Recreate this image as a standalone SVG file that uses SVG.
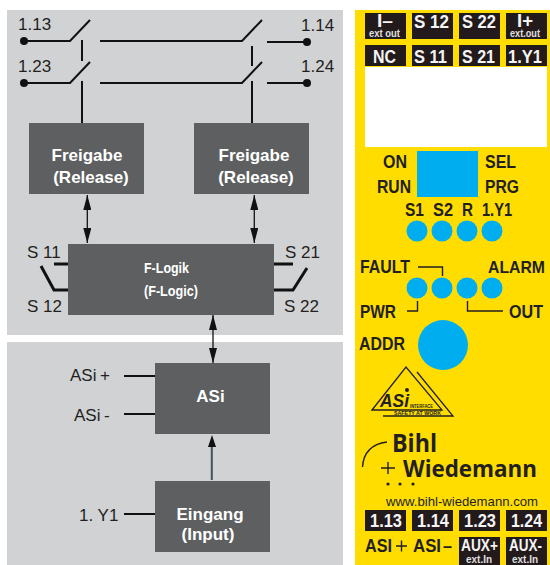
<svg xmlns="http://www.w3.org/2000/svg" width="550" height="565" viewBox="0 0 550 565">
<style>
text{font-family:"Liberation Sans",Arial,sans-serif}
.lab{font-size:17px;fill:#231f20}
.box{fill:#5d5f60}
.bt{font-size:17px;font-weight:bold;fill:#fff;text-anchor:middle}
.bc{font-size:15px;font-weight:bold;fill:#fff}
.w{fill:none;stroke:#111;stroke-width:2}
.th{fill:none;stroke:#111;stroke-width:3}
.ar{fill:none;stroke:#111;stroke-width:1.300;marker-start:url(#ah);marker-end:url(#ah)}
.term{fill:#231a1c}
.tt{font-size:18px;font-weight:bold;fill:#f4f4f4}
.ta{font-size:16px;font-weight:bold;fill:#f4f4f4}
.ts{font-size:10px;font-weight:bold;fill:#e0e0e0}
.y{font-size:18px;font-weight:bold;fill:#231f20}
.led{fill:#00aeef}
.ln{fill:none;stroke:#231f20;stroke-width:1.400}
.k{fill:#231f20;font-weight:bold}
</style>
<defs><marker id="ah" markerUnits="userSpaceOnUse" markerWidth="15" markerHeight="8" refX="15" refY="4" viewBox="0 0 15 8" orient="auto-start-reverse"><path d="M0 0L15 4L0 8z" fill="#111"/></marker></defs>
<rect width="550" height="565" fill="#fff"/>
<rect id="panel-top" x="7" y="10" width="336" height="325" fill="#d1d2d4"/>
<rect id="panel-bottom" x="7" y="342" width="336" height="223" fill="#d1d2d4"/>
<rect id="panel-device" x="355" y="10" width="195" height="555" fill="#ffdd00"/>
<g id="connectors">
<path class="w" d="M24 41H70L90 20M82 40V61M100 41H242L262 20M252 46V66M267 42H307"/>
<path class="w" d="M24 83H70L90 62M82 81V123M100 83H242L262 62M252 81V123M267 83H307"/>
<g fill="#111"><circle cx="24" cy="41" r="4"/><circle cx="24" cy="83" r="4"/><circle cx="307" cy="42" r="4"/><circle cx="307" cy="83" r="4"/></g>
<path class="ar" d="M87.300 195V243"/><path class="ar" d="M254.300 195V243"/><path class="ar" d="M213 315V363"/>
<path d="M211.800 480V445" fill="none" stroke="#44525c" stroke-width="2"/><path d="M212 435L216 447H208z" fill="#111"/>
<path class="th" d="M54 264H68M41 266L54 290H68M274 264H293M274 290H293L307 268"/>
<path class="w" d="M124 376H155M124 414H155M124 514H155"/>
</g>
<g id="labels-contacts" class="lab">
<text x="18" y="30">1.13</text><text x="18" y="72">1.23</text><text x="301" y="31">1.14</text><text x="301" y="72">1.24</text>
<text x="27" y="258">S 11</text><text x="27" y="312">S 12</text><text x="285" y="258">S 21</text><text x="284" y="312">S 22</text>
<text x="70" y="381">ASi</text><text x="100" y="381">+</text><text x="74" y="421">ASi</text><text x="104" y="421">-</text><text x="79" y="521">1. Y1</text>
</g>
<g id="node-freigabe-1"><rect class="box" x="29" y="123" width="115" height="71"/><text class="bt" x="87" y="161">Freigabe</text><text class="bt" x="91" y="183">(Release)</text></g>
<g id="node-freigabe-2"><rect class="box" x="194" y="123" width="115" height="71"/><text class="bt" x="254" y="161">Freigabe</text><text class="bt" x="256" y="183">(Release)</text></g>
<g id="node-flogik"><rect class="box" x="68" y="244" width="206" height="71"/><text class="bc" x="144" y="273" textLength="45" lengthAdjust="spacingAndGlyphs">F-Logik</text><text class="bc" x="144" y="296" textLength="54" lengthAdjust="spacingAndGlyphs">(F-Logic)</text></g>
<g id="node-asi"><rect class="box" x="155" y="363" width="115" height="71"/><text class="bt" x="210.500" y="402">ASi</text></g>
<g id="node-eingang"><rect class="box" x="155" y="481" width="115" height="71"/><text class="bt" x="210" y="520">Eingang</text><text class="bt" x="208" y="540">(Input)</text></g>
<g id="device">
<g class="term"><rect x="365" y="13" width="41" height="26"/><rect x="412" y="13" width="41" height="26"/><rect x="459" y="13" width="41" height="26"/><rect x="506" y="13" width="41" height="26"/>
<rect x="365" y="45" width="41" height="21"/><rect x="412" y="45" width="41" height="21"/><rect x="459" y="45" width="41" height="21"/><rect x="506" y="45" width="41" height="21"/>
<rect x="365" y="510" width="41" height="21"/><rect x="412" y="510" width="41" height="21"/><rect x="459" y="510" width="41" height="21"/><rect x="506" y="510" width="41" height="21"/>
<rect x="459" y="537" width="41" height="28"/><rect x="506" y="537" width="41" height="28"/></g>
<text class="tt" x="377" y="27" textLength="16" lengthAdjust="spacingAndGlyphs">I–</text><text class="ts" x="369" y="37" textLength="31" lengthAdjust="spacingAndGlyphs">ext out</text>
<text class="tt" x="414" y="28" textLength="35" lengthAdjust="spacingAndGlyphs">S 12</text><text class="tt" x="462" y="28" textLength="34" lengthAdjust="spacingAndGlyphs">S 22</text>
<text class="tt" x="517" y="27" textLength="16" lengthAdjust="spacingAndGlyphs">I+</text><text class="ts" x="510" y="37" textLength="30" lengthAdjust="spacingAndGlyphs">ext.out</text>
<text class="tt" x="373" y="63" textLength="23" lengthAdjust="spacingAndGlyphs">NC</text><text class="tt" x="414" y="63" textLength="33" lengthAdjust="spacingAndGlyphs">S 11</text><text class="tt" x="462" y="63" textLength="33" lengthAdjust="spacingAndGlyphs">S 21</text><text class="tt" x="508" y="63" textLength="34" lengthAdjust="spacingAndGlyphs">1.Y1</text>
<rect x="365" y="67" width="182" height="80" fill="#fff"/>
<rect class="led" x="417" y="151" width="61" height="46"/>
<text class="y" x="383" y="168" textLength="24" lengthAdjust="spacingAndGlyphs">ON</text><text class="y" x="377" y="193" textLength="34" lengthAdjust="spacingAndGlyphs">RUN</text><text class="y" x="485" y="168" textLength="31" lengthAdjust="spacingAndGlyphs">SEL</text><text class="y" x="485" y="193" textLength="34" lengthAdjust="spacingAndGlyphs">PRG</text>
<text class="y" x="405" y="216" textLength="19" lengthAdjust="spacingAndGlyphs">S1</text><text class="y" x="433" y="216" textLength="20" lengthAdjust="spacingAndGlyphs">S2</text><text class="y" x="462" y="216" textLength="11" lengthAdjust="spacingAndGlyphs">R</text><text class="y" x="482" y="216" textLength="30" lengthAdjust="spacingAndGlyphs">1.Y1</text>
<g class="led"><circle cx="417" cy="231" r="10.500"/><circle cx="442" cy="231" r="10.500"/><circle cx="467" cy="231" r="10.500"/><circle cx="492" cy="231" r="10.500"/><circle cx="417" cy="288" r="10.500"/><circle cx="442" cy="288" r="10.500"/><circle cx="467" cy="288" r="10.500"/><circle cx="492" cy="288" r="10.500"/><circle cx="443" cy="345" r="25"/></g>
<text class="y" x="360" y="273" textLength="50" lengthAdjust="spacingAndGlyphs">FAULT</text><text class="y" x="488" y="273" textLength="57" lengthAdjust="spacingAndGlyphs" style="font-size:17px">ALARM</text><text class="y" x="360" y="318" textLength="36" lengthAdjust="spacingAndGlyphs">PWR</text><text class="y" x="509" y="318" textLength="34" lengthAdjust="spacingAndGlyphs">OUT</text><text class="y" x="359" y="350" textLength="46" lengthAdjust="spacingAndGlyphs">ADDR</text>
<path class="ln" d="M418 267H442.500V276M407 311H417.500V301M467.500 301V311H503"/>
<g id="logo"><path d="M372 410L406 367L442 410z" fill="none" stroke="#231f20" stroke-width="1.300"/><path d="M417 372L453 416H383" fill="none" stroke="#231f20" stroke-width="1.300"/><circle cx="407" cy="390" r="2" fill="#231f20"/><text class="k" x="380" y="407" font-size="19" font-style="italic" textLength="29" lengthAdjust="spacingAndGlyphs">ASi</text><text class="k" x="410" y="408" font-size="4.500" textLength="23" lengthAdjust="spacingAndGlyphs">INTERFACE</text><text class="k" x="394" y="415" font-size="5" textLength="47" lengthAdjust="spacingAndGlyphs">SAFETY AT WORK</text></g>
<text x="392" y="452" font-size="25" font-weight="bold" textLength="45" lengthAdjust="spacingAndGlyphs" fill="#231f20" style="font-family:'Open Sans',sans-serif">Bihl</text><text x="403" y="477" font-size="24" font-weight="bold" textLength="134" lengthAdjust="spacingAndGlyphs" fill="#231f20" style="font-family:'Open Sans',sans-serif">Wiedemann</text><text x="386" y="506" font-size="13" textLength="152" lengthAdjust="spacingAndGlyphs" fill="#231f20">www.bihl-wiedemann.com</text>
<g fill="#231f20"><circle cx="388" cy="484" r="1.600"/><circle cx="400" cy="484" r="1.600"/><circle cx="413" cy="484" r="1.600"/></g>
<path class="ln" d="M362.500 467Q364 445 387 442M381 468H395M388 462V474"/>
<text class="tt" x="370" y="527" textLength="32" lengthAdjust="spacingAndGlyphs">1.13</text><text class="tt" x="417" y="527" textLength="32" lengthAdjust="spacingAndGlyphs">1.14</text><text class="tt" x="464" y="527" textLength="32" lengthAdjust="spacingAndGlyphs">1.23</text><text class="tt" x="511" y="527" textLength="31" lengthAdjust="spacingAndGlyphs">1.24</text>
<text class="y" x="365" y="552" textLength="27" lengthAdjust="spacingAndGlyphs">ASI</text><path class="ln" d="M396 546H407M401.500 540.500V551.500"/><text class="y" x="413" y="552" textLength="28" lengthAdjust="spacingAndGlyphs">ASI</text><text class="y" x="443" y="552" textLength="9" lengthAdjust="spacingAndGlyphs">–</text>
<text class="ta" x="461" y="551" textLength="37" lengthAdjust="spacingAndGlyphs">AUX+</text><text class="ts" x="466" y="563" textLength="26" lengthAdjust="spacingAndGlyphs">ext.In</text><text class="ta" x="509" y="551" textLength="33" lengthAdjust="spacingAndGlyphs">AUX-</text><text class="ts" x="512" y="563" textLength="26" lengthAdjust="spacingAndGlyphs">ext.In</text>
</g>
</svg>
